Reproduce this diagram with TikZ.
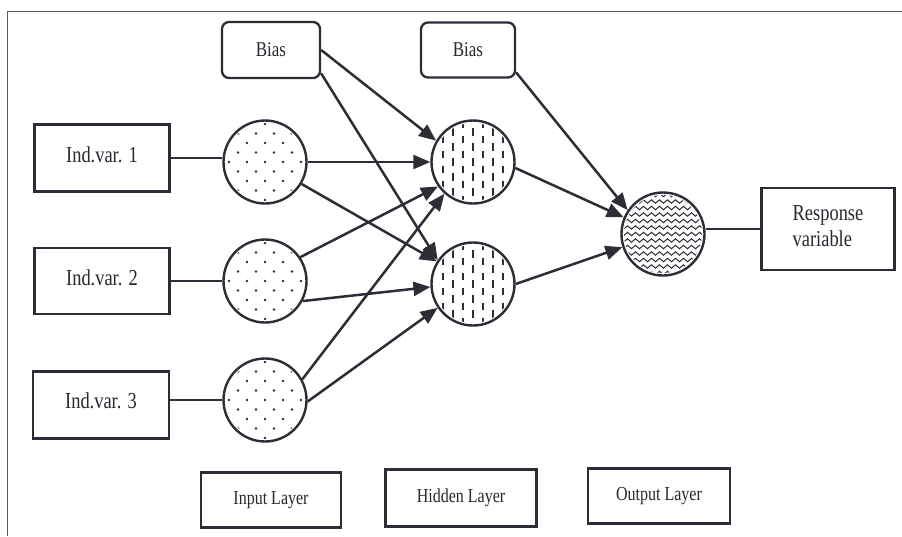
\documentclass[tikz,border=0pt]{standalone}
\usepackage{fontspec}
\setmainfont{Liberation Serif}
\usetikzlibrary{arrows.meta,decorations.pathmorphing}

\definecolor{ink}{HTML}{2E2C36}

% the lettering is set a little taller than the font's natural shape
\newcommand\tall[1]{\scalebox{0.97}[1.2]{#1}}

% fill patterns for the three kinds of neuron, clipped to the circle
\newcommand\stipplefill[1]{%
  \begin{scope}[shift={(#1)}]
    \clip (0,0) circle (39pt);
    \foreach \r in {-5,...,5}{
      \foreach \c in {-3,...,3}{
        \fill[ink] ({\c*18+9*abs(mod(\r,2))},{\r*9.5}) circle (1.35pt);
      }
    }
  \end{scope}}
\newcommand\dashfill[1]{%
  \begin{scope}[shift={(#1)}]
    \clip (0,0) circle (39pt);
    \foreach \c in {-4,...,4}{
      \foreach \r in {-3,...,3}{
        \draw[ink,line width=1.6pt]
          ({\c*10},{\r*15+7.5*abs(mod(\c,2))-3.8}) --
          ({\c*10},{\r*15+7.5*abs(mod(\c,2))+3.8});
      }
    }
  \end{scope}}
\newcommand\wavefill[1]{%
  \begin{scope}[shift={(#1)}]
    \clip (0,0) circle (39pt);
    \foreach \r in {-6,...,6}{
      \draw[ink,line width=1pt,decorate,
            decoration={snake,segment length=8pt,amplitude=1.7pt}]
        (-46,{\r*6.5}) -- (46,{\r*6.5});
    }
  \end{scope}}

\begin{document}
\begin{tikzpicture}[x=1pt,y=-1pt,
  box/.style={draw=ink,text=ink!90!black,line width=2.3pt,rectangle,inner sep=0pt,align=center,
              font=\rmfamily\fontsize{19}{17}\selectfont},
  biasbox/.style={box,rounded corners=7pt,font=\rmfamily\fontsize{17.5}{17}\selectfont},
  layerbox/.style={box,line width=2.6pt,font=\rmfamily\fontsize{16.5}{16}\selectfont},
  neuron/.style={draw=ink,line width=2.4pt,circle,minimum size=83pt,inner sep=0pt},
  link/.style={draw=ink,line width=2.5pt},
  feed/.style={link,-{Triangle[length=17pt,width=14pt]}},
]
\useasboundingbox (0,0) rectangle (902,536);
\fill[white] (0,0) rectangle (902,536);
\draw[black!65,line width=1pt] (7,536) -- (7,11) -- (902,11);

% input variables
\node[box,minimum width=135pt,minimum height=67pt] (x1) at (102,158) {\raisebox{7pt}{\tall{Ind.var. 1}}};
\node[box,minimum width=135pt,minimum height=66pt] (x2) at (102,281) {\raisebox{6pt}{\tall{Ind.var. 2}}};
\node[box,minimum width=136pt,minimum height=67pt] (x3) at (101,405) {\raisebox{8pt}{\tall{Ind.var. 3}}};

% bias units
\node[biasbox,minimum width=98pt,minimum height=56pt] (b1) at (271,50) {\tall{Bias}};
\node[biasbox,minimum width=94pt,minimum height=55pt] (b2) at (468,50) {\tall{Bias}};

% neurons
\node[neuron] (i1) at (265,162) {};
\node[neuron] (i2) at (265,281) {};
\node[neuron] (i3) at (265,400) {};
\node[neuron] (h1) at (473,162) {};
\node[neuron] (h2) at (473,284) {};
\node[neuron] (o)  at (663,234) {};

\stipplefill{i1}
\stipplefill{i2}
\stipplefill{i3}
\dashfill{h1}
\dashfill{h2}
\wavefill{o}

% response
\node[box,minimum width=133pt,minimum height=82pt] (y) at (828,229)
  {\tall{\begin{tabular}{@{}l@{}}Response\\[3pt]variable\end{tabular}}};

% layer legend
\node[layerbox,minimum width=140pt,minimum height=55pt] (li) at (271,500) {\tall{Input Layer}};
\node[layerbox,minimum width=151pt,minimum height=57pt] (lh) at (461,498) {\tall{Hidden Layer}};
\node[layerbox,minimum width=142pt,minimum height=55pt] (lo) at (659,496) {\tall{Output Layer}};

% inputs into the first layer
\draw[link] (x1.east) -- (x1.east -| i1.west);
\draw[link] (x2.east) -- (i2.west);
\draw[link] (i3.west -| x3.east) -- (i3.west);

% input layer to hidden layer
\draw[feed] (i1) -- (h1);
\draw[feed] (i1.-31) -- (h2.148);
\draw[feed] (i2.34) -- (h1.215);
\draw[feed] (i2.-28) -- (h2.184);
\draw[feed] (i3.29) -- (h1.228);
\draw[feed] (i3.-2) -- (h2.214);
\draw[feed] (b1.east) -- (h1.150);
\draw[feed] (b1.-25) -- (h2.146);

% hidden layer to output
\draw[feed] (h1.-8) -- (o.157);
\draw[feed] (h2.0) -- (o.198);
\draw[feed] (b2.-25) -- (o.146);
\draw[link] (y.west) -- (y.west -| o.east);
\end{tikzpicture}
\end{document}
